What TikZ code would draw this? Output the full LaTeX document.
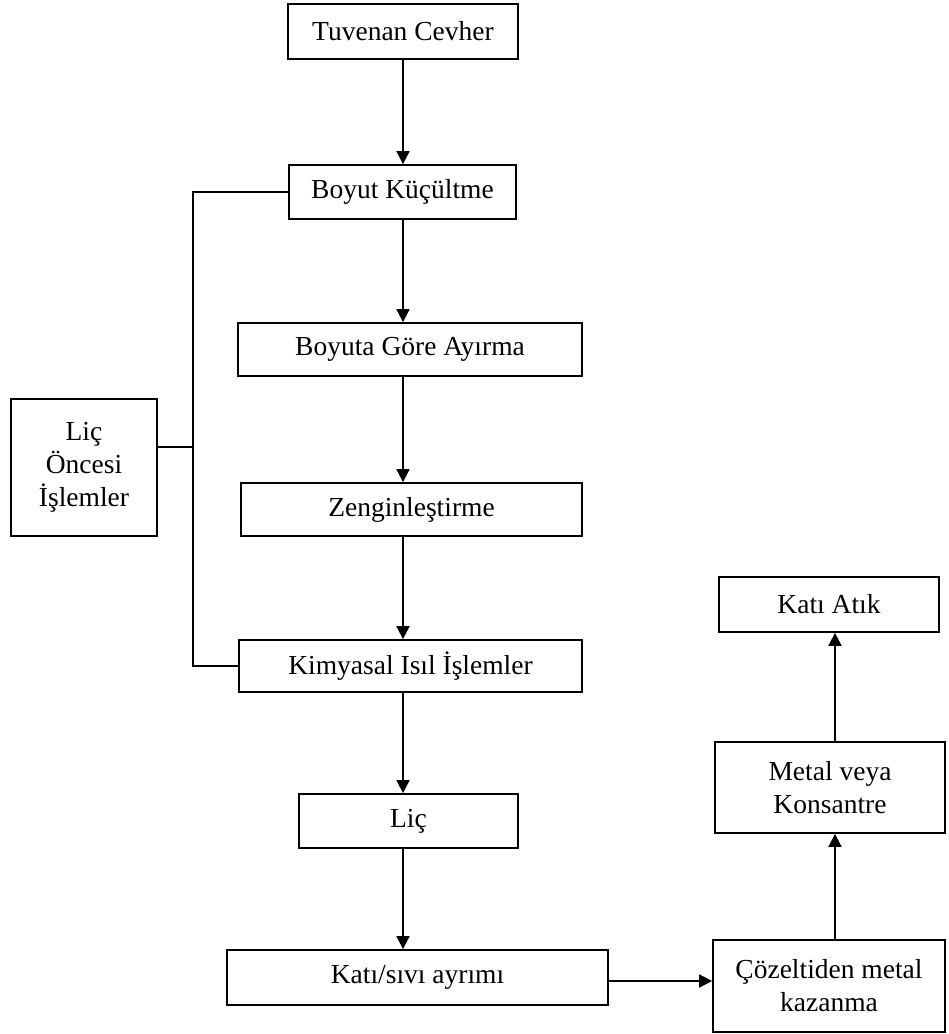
\documentclass[tikz,border=0pt]{standalone}
\usepackage{fontspec}
\setmainfont{Liberation Serif}
\usetikzlibrary{arrows.meta}
\begin{document}
\begin{tikzpicture}[x=1pt,y=-1pt,
  box/.style={draw, line width=1.8pt, inner sep=0pt, align=center,
    font=\fontsize{27.5}{33}\selectfont},
  conn/.style={line width=1.6pt},
  arr/.style={line width=1.8pt, -{Triangle[length=13pt,width=13pt]}}]
\useasboundingbox (0,0) rectangle (949,1034);
\node[box, minimum width=230pt, minimum height=55pt] (tuv) at (403,31.5) {Tuvenan Cevher};
\node[box, minimum width=227pt, minimum height=54pt] (boy) at (402.5,192) {Boyut Küçültme};
\node[box, minimum width=344pt, minimum height=53pt] (boya) at (410,349.5) {Boyuta Göre Ayırma};
\node[box, minimum width=341pt, minimum height=53pt] (zen) at (411.5,509.5) {Zenginleştirme};
\node[box, minimum width=343pt, minimum height=52pt] (kim) at (410.5,666) {Kimyasal Isıl İşlemler};
\node[box, minimum width=219pt, minimum height=54pt] (lic) at (408.5,821) {Liç};
\node[box, minimum width=381pt, minimum height=55pt] (kat) at (417.5,977.5) {Katı/sıvı ayrımı};
\node[box, minimum width=232pt, minimum height=92pt] (coz) at (829,986) {Çözeltiden metal\\kazanma};
\node[box, minimum width=230pt, minimum height=91pt] (met) at (830,787.5) {Metal veya\\Konsantre};
\node[box, minimum width=220pt, minimum height=55pt] (atik) at (829,604.5) {Katı Atık};
\node[box, minimum width=146pt, minimum height=137pt] (onc) at (84,467.5) {Liç\\Öncesi\\İşlemler};
\coordinate (col) at (403,0);
\coordinate (rcol) at (835,0);
\coordinate (hrow) at (0,981);
\coordinate (vb) at (193,0);
\coordinate (j) at (193,447);
\draw[arr] (tuv.south -| col) -- (boy.north -| col);
\draw[arr] (boy.south -| col) -- (boya.north -| col);
\draw[arr] (boya.south -| col) -- (zen.north -| col);
\draw[arr] (zen.south -| col) -- (kim.north -| col);
\draw[arr] (kim.south -| col) -- (lic.north -| col);
\draw[arr] (lic.south -| col) -- (kat.north -| col);
\draw[arr] (hrow -| kat.east) -- (hrow -| coz.west);
\draw[arr] (coz.north -| rcol) -- (met.south -| rcol);
\draw[arr] (met.north -| rcol) -- (atik.south -| rcol);
\draw[conn] (boy.west) -| (vb |- kim.west) -- (kim.west);
\draw[conn] (j -| onc.east) -- (j);
\end{tikzpicture}
\end{document}
